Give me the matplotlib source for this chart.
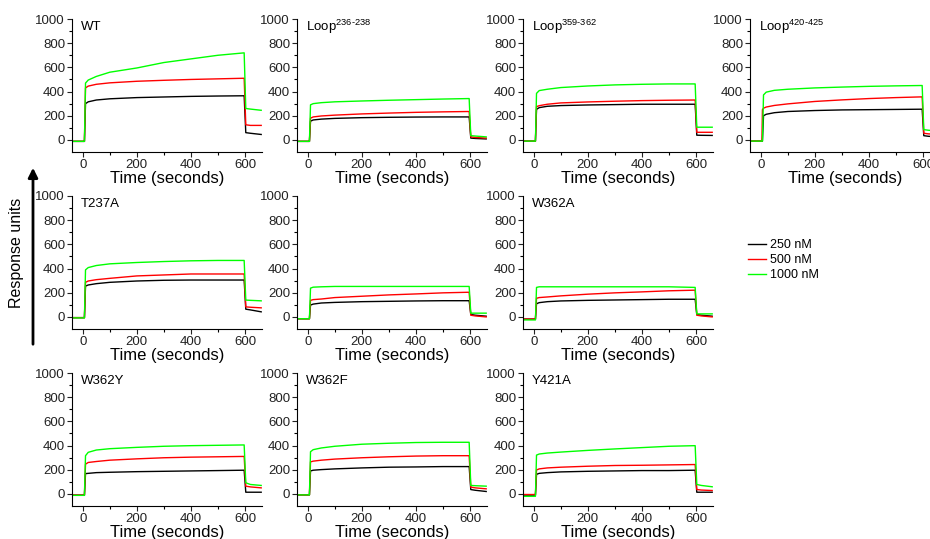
import numpy as np
import matplotlib
matplotlib.use('Agg')
import matplotlib.pyplot as plt

plt.rcParams['font.family'] = ['Liberation Sans', 'DejaVu Sans']
plt.rcParams['mathtext.fontset'] = 'custom'
plt.rcParams['mathtext.rm'] = 'Liberation Sans'
plt.rcParams['mathtext.it'] = 'Liberation Sans:italic'

t = [-40, 4, 6, 10, 20, 50, 100, 200, 300, 400, 500, 597, 603, 620, 660]

# response units, one list per panel / concentration
wt_250 = [-12, -12, -12, 300, 315, 330, 340, 350, 355, 360, 363, 365, 60, 55, 45]
wt_500 = [-12, -12, -12, 430, 445, 460, 472, 485, 493, 500, 505, 510, 125, 120, 120]
wt_1000 = [-12, -12, -12, 470, 495, 525, 560, 595, 640, 670, 700, 720, 260, 255, 245]

l236_250 = [-12, -12, -12, 155, 165, 172, 178, 184, 187, 189, 190, 190, 15, 12, 8]
l236_500 = [-12, -12, -12, 180, 190, 198, 205, 215, 222, 228, 232, 235, 25, 20, 15]
l236_1000 = [-12, -12, -12, 290, 300, 308, 315, 322, 328, 333, 338, 342, 35, 32, 25]

l359_250 = [-10, -10, -10, 253, 267, 278, 284, 289, 292, 295, 295, 295, 39, 38, 37]
l359_500 = [-10, -10, -10, 275, 283, 295, 306, 314, 320, 325, 328, 330, 63, 63, 63]
l359_1000 = [-10, -10, -10, 385, 408, 419, 433, 446, 455, 460, 463, 463, 105, 105, 105]

l420_250 = [-10, -10, -10, 200, 212, 225, 235, 243, 248, 250, 252, 254, 35, 30, 25]
l420_500 = [-10, -10, 250, 262, 272, 285, 298, 318, 331, 342, 350, 356, 55, 50, 45]
l420_1000 = [-10, -10, -10, 372, 395, 410, 419, 430, 437, 443, 447, 450, 85, 80, 72]

t237_250 = [-6, -6, -6, 255, 264, 275, 286, 297, 303, 305, 305, 305, 64, 58, 42]
t237_500 = [-6, -6, -6, 286, 297, 308, 319, 339, 347, 355, 355, 355, 83, 80, 75]
t237_1000 = [-8, -8, -8, 389, 408, 425, 439, 450, 458, 464, 467, 467, 139, 137, 133]

blank_250 = [-15, -15, -15, 98, 106, 115, 120, 126, 129, 132, 134, 134, 20, 14, 6]
blank_500 = [-15, -15, -15, 137, 143, 148, 160, 171, 182, 190, 199, 204, 14, 8, 0]
blank_1000 = [-15, -15, -15, 238, 246, 249, 252, 252, 252, 252, 252, 252, 31, 31, 31]

w362a_250 = [-18, -18, -18, 109, 118, 126, 132, 137, 140, 143, 146, 146, 20, 14, 6]
w362a_500 = [-18, -18, -18, 154, 160, 165, 174, 188, 199, 207, 216, 221, 14, 8, 0]
w362a_1000 = [-25, -25, -25, 244, 249, 249, 249, 249, 249, 249, 249, 244, 25, 25, 25]

w362y_250 = [-10, -10, -10, 168, 170, 176, 179, 184, 187, 190, 193, 196, 14, 14, 14]
w362y_500 = [-10, -10, -10, 246, 260, 268, 279, 290, 299, 304, 307, 310, 64, 58, 50]
w362y_1000 = [-12, -12, -12, 316, 344, 363, 374, 385, 394, 399, 402, 405, 92, 78, 70]

w362f_250 = [-8, -8, -8, 190, 196, 201, 207, 215, 221, 223, 226, 226, 36, 30, 20]
w362f_500 = [-8, -8, -8, 265, 271, 279, 288, 299, 307, 313, 316, 316, 56, 50, 42]
w362f_1000 = [-8, -8, -8, 349, 366, 380, 394, 411, 419, 425, 427, 427, 70, 68, 64]

y421_250 = [-10, -10, -10, 162, 170, 176, 182, 187, 190, 193, 193, 196, 14, 14, 14]
y421_500 = [-5, -5, -5, 198, 207, 215, 221, 229, 235, 237, 240, 243, 36, 32, 28]
y421_1000 = [-20, -20, -20, 321, 330, 338, 346, 360, 372, 383, 394, 399, 78, 70, 59]

labels = ['WT', r'Loop$^{\mathrm{236\text{-}238}}$', r'Loop$^{\mathrm{359\text{-}362}}$',
          r'Loop$^{\mathrm{420\text{-}425}}$', 'T237A', '', 'W362A', 'W362Y', 'W362F', 'Y421A']
conc = ['250 nM', '500 nM', '1000 nM']
colors = ['black', '#ff0000', '#00ff00']

panels = [
    (0, 0, labels[0], [wt_250, wt_500, wt_1000]),
    (0, 1, labels[1], [l236_250, l236_500, l236_1000]),
    (0, 2, labels[2], [l359_250, l359_500, l359_1000]),
    (0, 3, labels[3], [l420_250, l420_500, l420_1000]),
    (1, 0, labels[4], [t237_250, t237_500, t237_1000]),
    (1, 1, labels[5], [blank_250, blank_500, blank_1000]),
    (1, 2, labels[6], [w362a_250, w362a_500, w362a_1000]),
    (2, 0, labels[7], [w362y_250, w362y_500, w362y_1000]),
    (2, 1, labels[8], [w362f_250, w362f_500, w362f_1000]),
    (2, 2, labels[9], [y421_250, y421_500, y421_1000]),
]

W, H = 930, 539
fig = plt.figure(figsize=(W / 100, H / 100), dpi=100)

col_left = [72, 297, 523, 750]
row_top = [19, 196, 373]
ax_w, ax_h = 190, 133

handles = None
for r, c, name, series in panels:
    x0 = col_left[c]
    y0 = row_top[r]
    ax = fig.add_axes([x0 / W, 1 - (y0 + ax_h) / H, ax_w / W, ax_h / H])
    hs = []
    for vals, col, lab in zip(series, colors, conc):
        h, = ax.plot(t, vals, color=col, lw=1.0, label=lab)
        hs.append(h)
    if handles is None:
        handles = hs
    ax.set_xlim(-40, 663)
    ax.set_ylim(-100, 1000)
    ax.set_xticks([0, 200, 400, 600])
    ax.set_xticks([100, 300, 500], minor=True)
    ax.set_yticks([0, 200, 400, 600, 800, 1000])
    ax.set_yticks([100, 300, 500, 700, 900], minor=True)
    ax.spines['top'].set_visible(False)
    ax.spines['right'].set_visible(False)
    ax.tick_params(which='major', length=3.5, width=0.8, labelsize=9.5, pad=1.5, colors='#222222')
    ax.tick_params(which='minor', length=2, width=0.8)
    ax.set_xlabel('Time (seconds)', fontsize=12, labelpad=0)
    if name:
        ax.text(0.047, 0.94, name, transform=ax.transAxes, fontsize=9.5,
                ha='left', va='center')

fig.legend(handles, conc, loc='upper left', bbox_to_anchor=(737 / W, 1 - 228 / H),
           frameon=False, fontsize=9, handlelength=1.4, handletextpad=0.3,
           labelspacing=0.25)

fig.text(17 / W, 1 - 253 / H, 'Response units', rotation=90, fontsize=11.5,
         ha='center', va='center')
fig.add_artist(matplotlib.patches.FancyArrowPatch(
    (33 / W, 1 - 347 / H), (33 / W, 1 - 165 / H), transform=fig.transFigure,
    arrowstyle='-|>', mutation_scale=14, lw=2, color='black'))

fig.savefig('out.png', dpi=100)
